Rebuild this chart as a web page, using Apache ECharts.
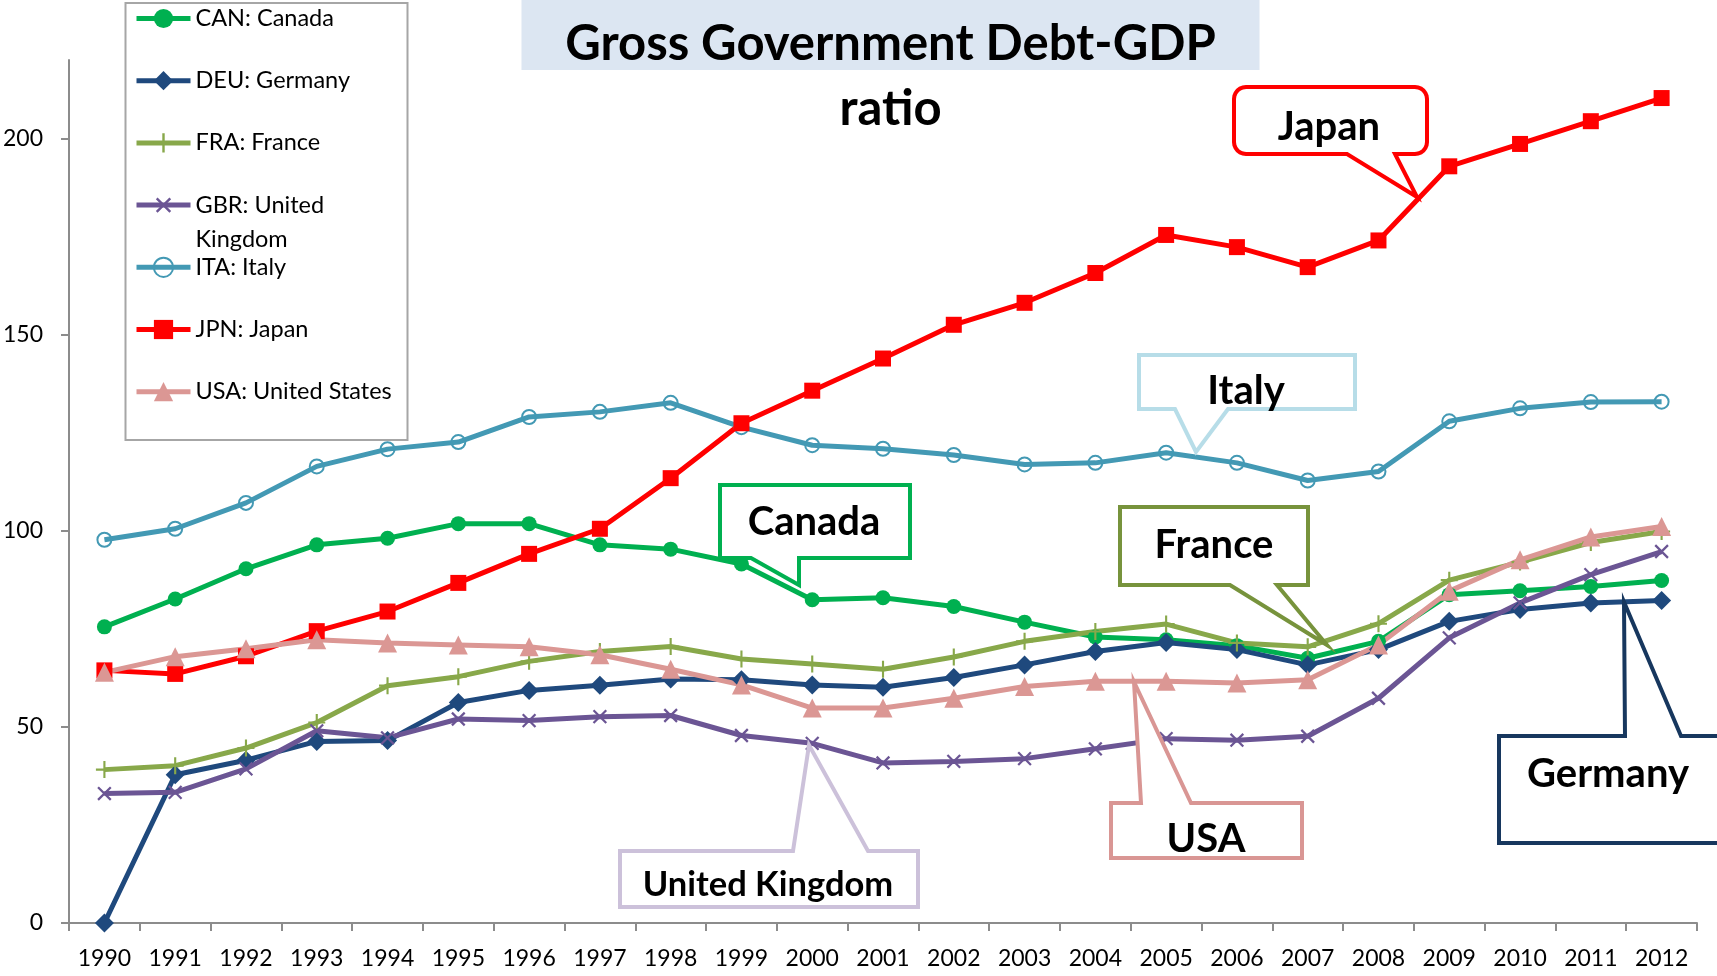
<!DOCTYPE html>
<html>
<head>
<meta charset="utf-8">
<script src="https://cdn.jsdelivr.net/npm/echarts@6/dist/echarts.min.js"></script>
<style>
  html, body { margin: 0; padding: 0; background: #fff; }
  #chart { width: 1717px; height: 976px; }
</style>
</head>
<body>
<div id="chart"></div>
<script>
// Gross government debt as a share of GDP, 1990-2012 (per cent)
const years = ['1990','1991','1992','1993','1994','1995','1996','1997','1998','1999','2000',
  '2001','2002','2003','2004','2005','2006','2007','2008','2009','2010','2011','2012'];

const canada  = [75.5, 82.6, 90.3, 96.4, 98.1, 101.8, 101.8, 96.4, 95.3, 91.5, 82.4, 82.9, 80.7, 76.7, 72.9, 72.2, 70.7, 67.5, 71.8, 83.7, 84.7, 85.8, 87.3];
const germany = [0, 37.8, 41.5, 46.3, 46.5, 56.2, 59.3, 60.6, 62.2, 62.0, 60.7, 60.1, 62.6, 65.8, 69.2, 71.5, 69.7, 65.8, 69.7, 76.9, 79.9, 81.6, 82.2];
const france  = [39.1, 40.1, 44.6, 51.1, 60.5, 62.8, 66.7, 69.2, 70.5, 67.3, 66.0, 64.7, 67.8, 71.8, 74.3, 76.2, 71.4, 70.4, 76.3, 87.4, 92.0, 97.0, 99.8];
const uk      = [33.0, 33.3, 39.3, 49.0, 47.2, 52.0, 51.6, 52.6, 52.9, 47.8, 45.8, 40.8, 41.2, 41.9, 44.4, 47.0, 46.6, 47.6, 57.3, 72.7, 81.6, 88.8, 94.7];
const italy   = [97.7, 100.5, 107.1, 116.4, 120.8, 122.6, 129.0, 130.3, 132.6, 126.4, 121.8, 120.9, 119.3, 116.9, 117.3, 119.9, 117.3, 112.8, 115.1, 127.9, 131.2, 132.8, 132.9];
const japan   = [64.4, 63.5, 68.0, 74.4, 79.4, 86.7, 94.1, 100.5, 113.4, 127.4, 135.7, 143.9, 152.5, 158.1, 165.7, 175.4, 172.3, 167.2, 174.0, 192.9, 198.6, 204.4, 210.3];
const usa     = [63.9, 67.9, 69.9, 72.2, 71.4, 70.9, 70.4, 68.4, 64.7, 60.7, 54.8, 54.8, 57.3, 60.3, 61.6, 61.6, 61.2, 62.0, 70.9, 84.6, 92.6, 98.4, 101.1];

const yTicks = [0, 50, 100, 150, 200];

const FONT = 'Lato, Carlito, Calibri, "Noto Sans", sans-serif';
const PLUS = 'path://M7,0h2v16h-2z M0,7h16v2h-16z';

const seriesDefs = [
  { name: 'CAN: Canada',          data: canada,  color: '#00b050', symbol: 'circle',   size: 15 },
  { name: 'DEU: Germany',         data: germany, color: '#1f497d', symbol: 'diamond',  size: 19 },
  { name: 'FRA: France',          data: france,  color: '#88a84a', symbol: PLUS,       size: 17 },
  { name: 'GBR: United Kingdom',  data: uk,      color: '#6b5594', symbol: PLUS,       size: 18, rotate: 45 },
  { name: 'ITA: Italy',           data: italy,   color: '#4399b4', symbol: 'circle',   size: 14, hollow: true },
  { name: 'JPN: Japan',           data: japan,   color: '#ff0000', symbol: 'rect',     size: 16 },
  { name: 'USA: United States',   data: usa,     color: '#db9794', symbol: 'triangle', size: 19 }
];

const series = seriesDefs.map(d => ({
  name: d.name,
  type: 'line',
  data: d.data,
  symbol: d.symbol,
  symbolSize: d.size,
  symbolRotate: d.rotate || 0,
  showAllSymbol: true,
  smooth: false,
  color: d.color,
  lineStyle: { color: d.color, width: 5 },
  itemStyle: d.hollow
    ? { color: 'rgba(255,255,255,0)', borderColor: d.color, borderWidth: 2 }
    : { color: d.color },
  emphasis: { disabled: true },
  animation: false
}));

// one legend block per series so every row sits on the same pitch
const legendRowTop = 18.5, legendPitch = 62.2;
const legends = seriesDefs.map((d, i) => {
  const wrap = d.name.indexOf('United Kingdom') >= 0;
  const c = legendRowTop + legendPitch * i;
  return {
    data: [d.name],
    left: 134,
    top: wrap ? c - 51 : c - 17,
    padding: 0,
    itemWidth: 54,
    itemHeight: 24,
    selectedMode: false,
    // the wrapped entry keeps its first line level with the icon
    formatter: n => wrap ? '\n' + n.replace(' Kingdom', '\nKingdom') : n,
    lineStyle: { width: 5 },
    textStyle: { fontFamily: FONT, fontSize: 23.5, color: '#000', lineHeight: 34 }
  };
});

// annotation boxes with pointers
const callouts = [
  { text: 'Japan',          size: 40, color: '#ff0000', box: [1234, 87, 193, 67],  edge: 'bottom', base: [1347, 1395], tip: [1417, 197], r: 12, tx: 1329, ty: 127 },
  { text: 'Italy',          size: 40, color: '#b7dde8', box: [1139, 355, 216, 54], edge: 'bottom', base: [1175, 1228], tip: [1196, 452], r: 0, tx: 1246, ty: 391 },
  { text: 'Canada',         size: 40, color: '#00b050', box: [720, 485, 190, 73],  edge: 'bottom', base: [751, 799],   tip: [799, 585],  r: 0, tx: 814,  ty: 522 },
  { text: 'France',         size: 40, color: '#77933c', box: [1120, 507, 188, 78], edge: 'bottom', base: [1230, 1277], tip: [1327, 645], r: 0, tx: 1214, ty: 545 },
  { text: 'USA',            size: 40, color: '#d99694', box: [1111, 803, 191, 55], edge: 'top',    base: [1141, 1191], tip: [1134, 682], r: 0, tx: 1206, ty: 839 },
  { text: 'Germany',        size: 40, color: '#17375e', box: [1499, 736, 240, 107],edge: 'top',    base: [1625, 1681], tip: [1624, 602], r: 0, tx: 1608, ty: 774 },
  { text: 'United Kingdom', size: 34.5, color: '#ccc1da', box: [620, 851, 298, 56], edge: 'top',   base: [793, 868],   tip: [809, 745],  r: 0, tx: 768,  ty: 885 }
];

function outline(c) {
  const [x, y, w, h] = c.box;
  const r = c.r;
  const pts = [];
  const arc = (cx, cy, a0, a1) => {
    for (let k = 0; k <= 6; k++) {
      const a = a0 + (a1 - a0) * k / 6;
      pts.push([cx + r * Math.cos(a), cy + r * Math.sin(a)]);
    }
  };
  arc(x + r, y + r, Math.PI, Math.PI * 1.5);
  if (c.edge === 'top') pts.push([c.base[0], y], c.tip, [c.base[1], y]);
  arc(x + w - r, y + r, -Math.PI / 2, 0);
  arc(x + w - r, y + h - r, 0, Math.PI / 2);
  if (c.edge === 'bottom') pts.push([c.base[1], y + h], c.tip, [c.base[0], y + h]);
  arc(x + r, y + h - r, Math.PI / 2, Math.PI);
  return pts;
}

const graphics = [
  // title band
  { type: 'rect', z: 0, shape: { x: 521.5, y: 0, width: 738, height: 70 },
    style: { fill: '#dce6f2' } },
  // legend frame
  { type: 'rect', z: 1, shape: { x: 125.5, y: 3, width: 282, height: 437 },
    style: { fill: '#fff', stroke: '#a6a6a6', lineWidth: 2 } }
];
callouts.forEach(c => {
  graphics.push({ type: 'polygon', z: 100, shape: { points: outline(c) },
    style: { fill: '#fff', stroke: c.color, lineWidth: 4, lineJoin: 'miter' } });
  graphics.push({ type: 'text', z: 101, x: c.tx, y: c.ty,
    style: { text: c.text, font: 'bold ' + c.size + 'px ' + FONT, fill: '#000',
             textAlign: 'center', textVerticalAlign: 'middle' } });
});

const chart = echarts.init(document.getElementById('chart'), null, { renderer: 'canvas' });
chart.setOption({
  animation: false,
  backgroundColor: '#fff',
  title: {
    text: '{a|Gross Government Debt-GDP}\n{b|ratio}',
    left: 521.5, top: 9, padding: 0, z: 10,
    textStyle: {
      rich: {
        a: { fontFamily: FONT, fontSize: 49, fontWeight: 'bold', color: '#000',
             width: 738, lineHeight: 70, align: 'center' },
        b: { fontFamily: FONT, fontSize: 49, fontWeight: 'bold', color: '#000',
             width: 738, lineHeight: 60, align: 'center' }
      }
    }
  },
  legend: legends,
  grid: { left: 69, right: 20, top: 60, bottom: 53, containLabel: false },
  xAxis: {
    type: 'category',
    data: years,
    boundaryGap: true,
    axisLine: { lineStyle: { color: '#8c8c8c', width: 2 } },
    axisTick: { show: true, length: 8, inside: false, alignWithLabel: false, lineStyle: { color: '#8c8c8c', width: 2 } },
    axisLabel: { fontFamily: FONT, fontSize: 23, color: '#000', margin: 24, interval: 0 },
    splitLine: { show: false }
  },
  yAxis: {
    type: 'value',
    min: 0, max: 220, interval: 50,
    axisLine: { show: true, lineStyle: { color: '#8c8c8c', width: 2 } },
    axisTick: { show: true, length: 8, customValues: yTicks, lineStyle: { color: '#8c8c8c', width: 2 } },
    axisLabel: { fontFamily: FONT, fontSize: 23, color: '#000', margin: 26, customValues: yTicks },
    splitLine: { show: false }
  },
  graphic: graphics,
  series: series
});
</script>
</body>
</html>
